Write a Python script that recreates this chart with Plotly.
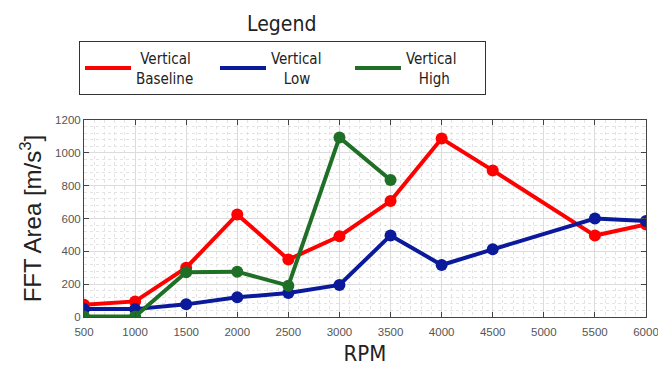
import plotly.graph_objects as go

rpm = [500, 1000, 1500, 2000, 2500, 3000, 3500, 4000, 4500, 5500, 6000]
baseline = [75, 95, 300, 625, 350, 492, 706, 1087, 893, 496, 564]
low = [48, 48, 77, 120, 146, 195, 497, 317, 412, 600, 585]
rpm_high = [500, 1000, 1500, 2000, 2500, 3000, 3500]
high = [3, 3, 273, 276, 191, 1094, 834]

NB = "\u00a0"
series = [
    ("Vertical<br>Baseline", f"{NB}Vertical<br>Baseline", rpm, baseline, "#ff0000"),
    ("Vertical<br>Low", f"Vertical<br>{NB * 3}Low", rpm, low, "#0a1a9a"),
    ("Vertical<br>High", f"Vertical<br>{NB * 3}High", rpm_high, high, "#1f7026"),
]

fig = go.Figure()
for name, label, xs, ys, color in series:
    # data trace (lines + markers)
    fig.add_trace(go.Scatter(
        x=xs, y=ys, name=name, mode="lines+markers", showlegend=False,
        line=dict(color=color, width=4),
        marker=dict(color=color, size=12),
    ))
    # legend entry shows the line only
    fig.add_trace(go.Scatter(
        x=[None], y=[None], name=label, mode="lines",
        line=dict(color=color, width=4),
    ))

TITLE_FONT = "DejaVu Sans Condensed"

axis_common = dict(
    showline=True, linecolor="#444", linewidth=1, mirror="ticks",
    ticks="inside", ticklen=5, tickcolor="#444",
    showgrid=True, gridcolor="#dcdcdc", gridwidth=1,
    zeroline=False, automargin=False,
    tickfont=dict(family="Liberation Sans", size=11.5, color="#555"),
)

fig.update_xaxes(
    range=[500, 6000], dtick=500, tick0=500,
    minor=dict(dtick=100, showgrid=True, gridcolor="#e3e3e3", griddash="dot"),
    ticklabelstandoff=4, ticklabeloverflow="allow",
    title=dict(text="RPM", font=dict(family=TITLE_FONT, size=22, color="#222"), standoff=8),
    **axis_common,
)
fig.update_yaxes(
    range=[0, 1200], dtick=200,
    minor=dict(dtick=40, showgrid=True, gridcolor="#e3e3e3", griddash="dot"),
    title=dict(text="FFT Area [m/s<sup>3</sup>]", font=dict(family="Liberation Sans", size=24, color="#222"), standoff=6),
    **axis_common,
)

fig.update_layout(
    width=658, height=372,
    margin=dict(l=84, r=12, t=120, b=55),
    paper_bgcolor="white", plot_bgcolor="white",
    showlegend=True,
    legend=dict(
        orientation="h", x=(79 - 84) / 562, y=(317 - 41) / 197, xanchor="left", yanchor="top",
        bordercolor="#333", borderwidth=1, bgcolor="white",
        font=dict(family=TITLE_FONT, size=15, color="#222"),
        itemwidth=46, entrywidth=74, traceorder="normal",
        itemclick=False, itemdoubleclick=False,
    ),
    annotations=[dict(
        text="Legend", x=(281 - 84) / 562, y=(317 - 24) / 197,
        xref="paper", yref="paper", xanchor="center", yanchor="middle", showarrow=False,
        font=dict(family=TITLE_FONT, size=21, color="#222"),
    )],
)

fig.write_html("out.html")
